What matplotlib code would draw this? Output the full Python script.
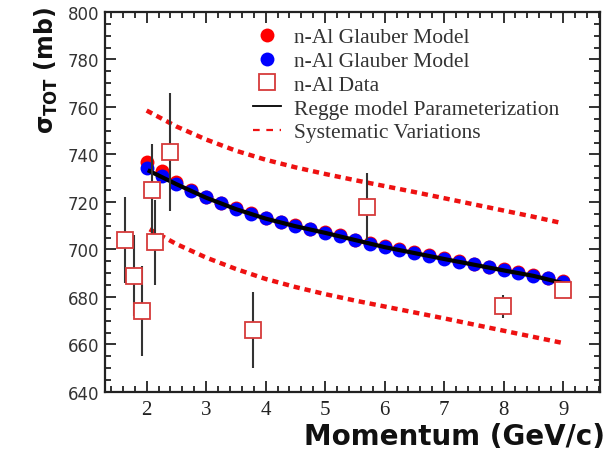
import numpy as np
import matplotlib
matplotlib.use("Agg")
import matplotlib.pyplot as plt
from matplotlib.ticker import MultipleLocator

plt.rcParams["mathtext.fontset"] = "custom"
plt.rcParams["mathtext.rm"] = "DejaVu Sans:bold"
plt.rcParams["mathtext.it"] = "DejaVu Sans:bold"
plt.rcParams["mathtext.bf"] = "DejaVu Sans:bold"

# Glauber model points
glauber_p = [2.0, 2.25, 2.5, 2.75, 3.0, 3.25, 3.5, 3.75, 4.0, 4.25, 4.5, 4.75, 5.0, 5.25, 5.5,
             5.75, 6.0, 6.25, 6.5, 6.75, 7.0, 7.25, 7.5, 7.75, 8.0, 8.25, 8.5, 8.75, 9.0]
glauber_red = [737.0, 733.0, 728.5, 725.0, 722.3, 719.7, 717.4, 715.3, 713.4, 711.7, 710.2, 708.8,
               707.4, 705.9, 704.1, 702.7, 701.4, 700.1, 698.8, 697.6, 696.4, 695.2, 694.0, 692.8,
               691.6, 690.4, 689.3, 688.2, 686.9]
glauber_blue = [734.3, 730.8, 727.7, 724.6, 722.0, 719.4, 717.1, 715.0, 713.1, 711.4, 709.9, 708.5,
                707.1, 705.6, 703.8, 702.4, 701.1, 699.8, 698.5, 697.3, 696.1, 694.9, 693.7, 692.5,
                691.3, 690.1, 689.0, 687.9, 686.5]

# Regge parameterization
regge_p = [2.05, 2.5, 3.0, 3.5, 4.0, 4.5, 5.0, 5.5, 6.0, 6.5, 7.0, 7.5, 8.0, 8.5, 9.0]
regge_sigma = [733.0, 727.5, 721.8, 717.0, 713.0, 709.8, 707.0, 704.0, 701.0, 698.5, 696.0,
               693.6, 691.2, 688.9, 685.8]

# systematic variations
upper_p = [2.0, 2.5, 3.0, 3.5, 4.0, 4.5, 5.0, 5.5, 6.0, 6.5, 7.0, 7.5, 8.0, 8.5, 9.0]
upper_sigma = [758.5, 751.8, 746.3, 741.6, 737.8, 734.6, 731.8, 729.2, 726.7, 724.2, 721.6,
               719.0, 716.4, 713.8, 711.0]
lower_p = [2.05, 2.5, 3.0, 3.5, 4.0, 4.5, 5.0, 5.5, 6.0, 6.5, 7.0, 7.5, 8.0, 8.5, 9.0]
lower_sigma = [708.5, 702.3, 696.6, 691.8, 687.6, 684.2, 681.2, 678.5, 676.0, 673.5, 671.0,
               668.4, 665.8, 663.2, 660.6]

# n-Al data
data_p = [1.64, 1.78, 1.92, 2.09, 2.14, 2.39, 3.79, 5.70, 7.99, 9.0]
data_sigma = [704, 689, 674, 725, 703, 741, 666, 718, 676, 683]
data_err = [18, 17, 19, 19.5, 18, 25, 16, 14, 5, 3]

fig = plt.figure(figsize=(6.08, 4.56), dpi=100)
ax = fig.add_axes([0.1727, 0.1382, 0.8141, 0.8333])

ax.plot(glauber_p, glauber_red, "o", color="#ff0000", markersize=10, markeredgewidth=0,
        label="n-Al Glauber Model", zorder=2)
ax.plot(glauber_p, glauber_blue, "o", color="#0000ff", markersize=10, markeredgewidth=0,
        label="n-Al Glauber Model", zorder=3)
ax.errorbar(data_p, data_sigma, yerr=data_err, fmt="none", ecolor="#333333", elinewidth=1.5,
            capsize=0, zorder=5)
ax.plot(data_p, data_sigma, "s", markerfacecolor="white", markeredgecolor="#d63a3a",
        markersize=11, markeredgewidth=1.3, label="n-Al Data", zorder=6)
ax.plot(regge_p, regge_sigma, "-", color="black", lw=3, label="Regge model Parameterization",
        zorder=4)
ax.plot(upper_p, upper_sigma, color="#ee1111", lw=3.2, dashes=(1.4, 1.1),
        label="Systematic Variations", zorder=4)
ax.plot(lower_p, lower_sigma, color="#ee1111", lw=3.2, dashes=(1.4, 1.1), zorder=4)

ax.set_xlim(1.3, 9.62)
ax.set_ylim(640, 800)
ax.xaxis.set_major_locator(MultipleLocator(1))
ax.xaxis.set_minor_locator(MultipleLocator(0.2))
ax.yaxis.set_major_locator(MultipleLocator(20))
ax.yaxis.set_minor_locator(MultipleLocator(5))
ax.tick_params(which="both", direction="in", top=True, right=True, width=1.3, color="#222222")
ax.tick_params(which="major", length=8)
ax.tick_params(which="minor", length=4.5)
ax.tick_params(axis="x", pad=6, labelsize=15, labelcolor="#222222")
ax.tick_params(axis="y", pad=4, labelsize=12, labelcolor="#333333")
for lbl in ax.get_xticklabels():
    lbl.set_fontfamily("Liberation Serif")
for sp in ax.spines.values():
    sp.set_linewidth(1.6)
    sp.set_color("#222222")

leg = ax.legend(loc="upper left", bbox_to_anchor=(0.277, 0.988), frameon=False,
                prop={"family": "Liberation Serif", "size": 15.5}, handlelength=1.3,
                handletextpad=0.6, labelspacing=0.17, borderpad=0, markerscale=1.0)
for t in leg.get_texts():
    t.set_color("#333333")
hs = leg.legend_handles
hs[3].set_linewidth(1.3)
hs[4].set_linewidth(1.6)
hs[4].set_dashes((3, 3))

fig.text(0.995, 0.042, "Momentum (GeV/c)", ha="right", va="center", fontsize=20,
         fontweight="bold", color="#111111")
fig.text(0.077, 0.985, r"$\sigma_{TOT}$ (mb)", ha="center", va="top", rotation=90,
         fontsize=17, fontweight="bold", color="#111111")

fig.savefig("out.png", dpi=100)
